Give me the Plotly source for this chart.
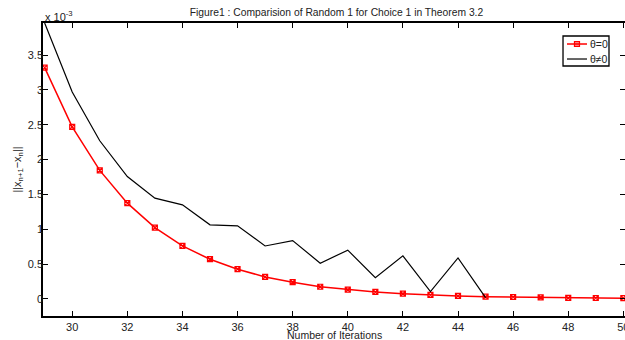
import plotly.graph_objects as go

iters_red = list(range(29, 51))
theta0 = [3.32, 2.47, 1.845, 1.375, 1.024, 0.76, 0.57, 0.427, 0.316, 0.24, 0.175, 0.133,
          0.10, 0.076, 0.057, 0.043, 0.033, 0.028, 0.022, 0.016, 0.013, 0.011]
iters_black = list(range(29, 46))
theta_ne0 = [3.96, 2.97, 2.27, 1.757, 1.447, 1.35, 1.063, 1.049, 0.76, 0.838, 0.513, 0.70,
             0.306, 0.618, 0.105, 0.589, 0.02]

series_names = ["θ=0", "θ≠0"]
series_colors = ["red", "black"]

xticks = [30, 32, 34, 36, 38, 40, 42, 44, 46, 48, 50]
yticks = [0, 0.5, 1, 1.5, 2, 2.5, 3, 3.5]
ytick_text = ["0", "0.5", "1", "1.5", "2", "2.5", "3", "3.5"]

font = "Liberation Sans, Arial, Helvetica, sans-serif"
txt = "#222"

fig = go.Figure()
fig.add_trace(go.Scatter(
    x=iters_red, y=theta0, mode="lines+markers", name=series_names[0],
    line=dict(color=series_colors[0], width=1.5),
    marker=dict(symbol="square-x-open", size=5, color="red", line=dict(width=1.2, color="red")),
    showlegend=False,
))
fig.add_trace(go.Scatter(
    x=iters_black, y=theta_ne0, mode="lines", name=series_names[1],
    line=dict(color=series_colors[1], width=1.2),
    showlegend=False,
))

axis_common = dict(
    showline=True, linecolor="black", linewidth=1.5, mirror="ticks",
    ticks="inside", ticklen=5, tickcolor="black", tickwidth=1,
    showgrid=False, zeroline=False, automargin=False,
    ticklabeloverflow="allow",
    tickfont=dict(family=font, size=11, color=txt),
)

fig.update_layout(
    width=625, height=340,
    margin=dict(l=43, r=0, t=23, b=24),
    paper_bgcolor="white", plot_bgcolor="white",
    font=dict(family=font, size=11, color=txt),
    title=dict(text="Figure1 : Comparision of Random 1 for Choice 1 in Theorem 3.2",
               x=0.5384, xanchor="center", y=0.963, yanchor="middle",
               font=dict(family=font, size=10.3, color=txt)),
    xaxis=dict(range=[28.94, 50.06], tickvals=xticks, **axis_common),
    yaxis=dict(range=[-0.245, 3.96], tickvals=yticks, ticktext=ytick_text,
               ticklabelstandoff=-4,
               title=dict(text="||x<sub>n+1</sub>−x<sub>n</sub>||", standoff=4,
                          font=dict(family=font, size=11, color=txt)),
               **axis_common),
    showlegend=False,
)

# x-axis title
fig.add_annotation(text="Number of Iterations", xref="paper", yref="paper",
                   x=0.5, y=0, xanchor="center", yanchor="top", yshift=-11,
                   showarrow=False, font=dict(family=font, size=10.5, color=txt))

# exponent label
fig.add_annotation(text="x 10<sup>-3</sup>", xref="paper", yref="paper",
                   x=0, y=1, xanchor="left", yanchor="bottom", showarrow=False,
                   font=dict(family=font, size=11, color=txt), yshift=-2)

# custom compact legend (MATLAB style)
lx0, lx1, ly0, ly1 = 0.8935, 0.9725, 0.8532, 0.9556
fig.add_shape(type="rect", xref="paper", yref="paper", x0=lx0, x1=lx1, y0=ly0, y1=ly1,
              line=dict(color="black", width=1.3), fillcolor="white", layer="above")
rows_y = [0.9283, 0.8771]
for i, (nm, col) in enumerate(zip(series_names, series_colors)):
    yy = rows_y[i]
    fig.add_shape(type="line", xref="paper", yref="paper", x0=0.9003, x1=0.9347, y0=yy, y1=yy,
                  line=dict(color=col, width=1.5 if i == 0 else 1.2), layer="above")
    if i == 0:
        fig.add_shape(type="rect", xref="paper", yref="paper",
                      x0=0.9175 - 0.0043, x1=0.9175 + 0.0043, y0=yy - 0.0085, y1=yy + 0.0085,
                      line=dict(color=col, width=1.2), fillcolor="rgba(255,0,0,0.5)", layer="above")
    fig.add_annotation(text=nm, xref="paper", yref="paper", x=0.9364, y=yy,
                       xanchor="left", yanchor="middle", showarrow=False,
                       font=dict(family=font, size=10.5, color=txt))

fig.write_html("out.html")
